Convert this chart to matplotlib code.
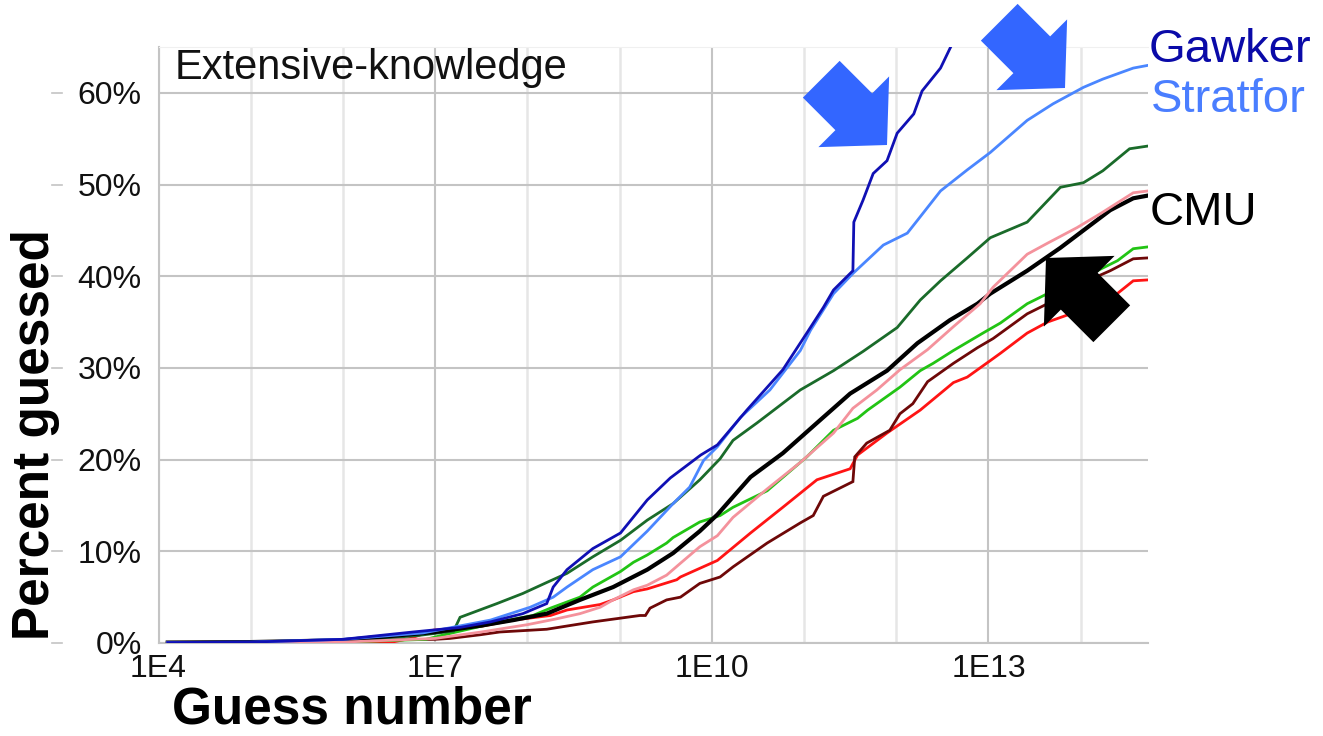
import numpy as np
import matplotlib.pyplot as plt
import matplotlib.transforms as mtransforms
from matplotlib.patches import Polygon
from matplotlib.ticker import FixedLocator, NullFormatter

plt.rcParams['font.family'] = ['Liberation Sans', 'DejaVu Sans']

W, H = 1323, 736

# guess number (as a power of ten) and percent of passwords guessed
gawker_exp = [4.1, 5.0, 6.0, 6.76, 7.27, 7.6, 7.95, 8.21, 8.28, 8.43, 8.71, 9.01, 9.30, 9.55, 9.88,
              10.06, 10.38, 10.77, 11.03, 11.21, 11.32, 11.53, 11.54, 11.64, 11.75, 11.90, 12.01,
              12.19, 12.28, 12.48, 12.59, 12.7]
gawker_pct = [0.05, 0.1, 0.4, 1.2, 1.7, 2.3, 3.2, 4.3, 6.1, 8.0, 10.3, 12.0, 15.6, 18.0, 20.5,
              21.6, 25.4, 29.8, 33.8, 36.6, 38.5, 40.6, 45.9, 48.3, 51.2, 52.6, 55.6,
              57.7, 60.2, 62.7, 65.0, 67.0]

stratfor_exp = [4.1, 5.0, 6.0, 6.87, 7.6, 8.03, 8.28, 8.43, 8.71, 9.01, 9.30, 9.58, 9.76, 9.91,
                10.06, 10.31, 10.63, 10.96, 11.07, 11.32, 11.53, 11.86, 12.12, 12.23, 12.48, 12.77,
                13.02, 13.42, 13.70, 14.03, 14.24, 14.57, 14.73]
stratfor_pct = [0.05, 0.1, 0.4, 1.1, 2.5, 3.9, 5.0, 6.1, 8.0, 9.4, 12.2, 15.2, 17.0, 19.9,
                21.4, 24.6, 27.6, 31.9, 34.1, 38.1, 40.3, 43.4, 44.7, 46.1, 49.3, 51.6,
                53.5, 57.0, 58.8, 60.6, 61.5, 62.7, 63.0]

dkgreen_exp = [4.1, 5.0, 6.0, 6.8, 7.2, 7.27, 7.67, 7.95, 8.21, 8.43, 8.71, 9.01, 9.30, 9.58,
               9.87, 10.09, 10.23, 10.49, 10.96, 11.32, 11.64, 12.01, 12.26, 12.48, 12.77, 13.02,
               13.42, 13.78, 14.03, 14.24, 14.53, 14.73]
dkgreen_pct = [0.05, 0.05, 0.2, 0.8, 1.3, 2.8, 4.3, 5.4, 6.6, 7.6, 9.4, 11.2, 13.4, 15.2,
               17.8, 20.1, 22.1, 24.0, 27.6, 29.7, 31.8, 34.4, 37.4, 39.5, 42.0, 44.2,
               45.9, 49.7, 50.2, 51.5, 53.9, 54.2]

cmu_exp = [4.1, 5.0, 6.0, 7.0, 7.5, 7.85, 8.21, 8.57, 8.93, 9.30, 9.58, 9.87, 10.06, 10.42,
           10.77, 11.14, 11.50, 11.90, 12.23, 12.58, 12.88, 13.02, 13.42, 13.78, 14.03, 14.32,
           14.57, 14.73]
cmu_pct = [0.05, 0.1, 0.3, 1.2, 1.9, 2.5, 3.2, 4.7, 6.1, 8.0, 9.8, 12.2, 14.0, 18.1,
           20.7, 24.0, 27.2, 29.7, 32.7, 35.2, 37.0, 38.1, 40.6, 43.1, 45.0, 47.2,
           48.5, 48.8]

pink_exp = [4.1, 5.0, 6.0, 7.0, 7.5, 8.0, 8.3, 8.57, 8.79, 8.93, 9.15, 9.30, 9.51, 9.66, 9.87,
            10.06, 10.23, 10.60, 10.96, 11.32, 11.53, 11.79, 12.04, 12.34, 12.62, 12.91, 13.05,
            13.42, 13.64, 13.96, 14.21, 14.57, 14.73]
pink_pct = [0.05, 0.05, 0.1, 0.5, 1.2, 2.0, 2.6, 3.2, 3.9, 4.7, 5.8, 6.3, 7.4, 8.7, 10.5,
            11.7, 13.7, 16.8, 19.7, 22.9, 25.6, 27.6, 29.8, 32.0, 34.5, 37.0, 38.8,
            42.4, 43.6, 45.3, 46.8, 49.1, 49.3]

ltgreen_exp = [4.1, 5.0, 6.0, 6.9, 7.1, 7.70, 8.06, 8.25, 8.57, 8.71, 9.01, 9.15, 9.30, 9.51,
               9.58, 9.87, 10.09, 10.23, 10.60, 11.03, 11.32, 11.58, 11.69, 12.04, 12.26, 12.40,
               12.62, 12.94, 13.13, 13.42, 13.78, 14.14, 14.40, 14.57, 14.73]
ltgreen_pct = [0.05, 0.05, 0.1, 0.4, 0.9, 2.3, 3.0, 3.8, 5.0, 6.1, 7.8, 8.8, 9.6, 10.9,
               11.5, 13.2, 13.9, 14.8, 16.6, 20.3, 23.2, 24.5, 25.4, 27.9, 29.7, 30.5,
               31.9, 33.8, 34.9, 37.0, 38.8, 40.4, 41.7, 43.0, 43.2]

maroon_exp = [4.1, 5.0, 6.0, 7.0, 7.16, 7.49, 7.70, 8.21, 8.71, 9.22, 9.28, 9.33, 9.51, 9.66,
              9.87, 10.09, 10.23, 10.60, 10.96, 11.10, 11.21, 11.53, 11.55, 11.68, 11.93, 12.04,
              12.18, 12.34, 12.62, 12.88, 13.05, 13.42, 13.64, 13.89, 14.14, 14.32, 14.57, 14.73]
maroon_pct = [0.05, 0.1, 0.3, 0.4, 0.5, 0.9, 1.2, 1.5, 2.3, 3.0, 3.0, 3.8, 4.7, 5.0,
              6.5, 7.2, 8.3, 10.9, 13.1, 13.9, 16.0, 17.6, 20.3, 21.8, 23.2, 25.0,
              26.1, 28.5, 30.5, 32.2, 33.2, 35.9, 37.0, 38.1, 39.8, 40.6, 41.9, 42.0]

red_exp = [4.1, 5.0, 6.0, 6.51, 6.73, 6.98, 7.49, 7.85, 8.25, 8.43, 8.79, 8.93, 9.15, 9.30,
           9.62, 9.66, 10.06, 10.42, 10.77, 11.14, 11.50, 11.58, 11.90, 12.26, 12.62, 12.77,
           13.02, 13.13, 13.42, 13.64, 13.92, 14.21, 14.57, 14.73]
red_pct = [0.02, 0.02, 0.05, 0.05, 0.5, 1.4, 1.8, 2.5, 3.0, 3.6, 4.2, 4.7, 5.6, 5.9,
           6.9, 7.2, 9.0, 12.0, 14.8, 17.8, 19.0, 20.5, 22.9, 25.4, 28.4, 29.0,
           30.8, 31.6, 33.8, 35.0, 36.0, 36.6, 39.5, 39.6]

# drawing order: last one ends up on top
series = [
    (red_exp, red_pct, '#ff1414', 2.0),
    (maroon_exp, maroon_pct, '#6e0808', 2.0),
    (ltgreen_exp, ltgreen_pct, '#22c414', 2.0),
    (dkgreen_exp, dkgreen_pct, '#1a6b2a', 2.0),
    (cmu_exp, cmu_pct, '#000000', 3.0),
    (pink_exp, pink_pct, '#f4929c', 2.0),
    (stratfor_exp, stratfor_pct, '#4a86ff', 2.0),
    (gawker_exp, gawker_pct, '#1010b4', 2.0),
]

major_exp = [4, 7, 10, 13]
minor_exp = [5, 6, 8, 9, 11, 12, 14]
y_ticks = [0, 10, 20, 30, 40, 50, 60]


def px(x, y):
    # pixel position (y from top) -> figure fraction
    return x / W, 1 - y / H


def block_arrow(tip, direction, color):
    d = np.array(direction, float)
    d /= np.hypot(*d)
    n = np.array([d[1], -d[0]])
    shape = [(0, 0), (-47, 50), (-47, 26), (-93, 26), (-93, -26), (-47, -26), (-47, -50)]
    pts = [px(*(np.array(tip) + u * d + v * n)) for u, v in shape]
    fig.add_artist(Polygon(pts, closed=True, facecolor=color, edgecolor='none',
                           transform=fig.transFigure, zorder=10))


fig = plt.figure(figsize=(W / 100, H / 100), dpi=100)
x0, y0 = px(158.5, 643)
x1, y1 = px(1148, 47)
ax = fig.add_axes([x0, y0, x1 - x0, y1 - y0])

for exp, pct, color, lw in series:
    ax.plot(10.0 ** np.array(exp), pct, color=color, lw=lw, solid_joinstyle='miter', zorder=3)

ax.set_xscale('log')
ax.set_xlim(1e4, 10 ** 14.73)
ax.set_ylim(0, 65)

ax.xaxis.set_major_locator(FixedLocator([10.0 ** e for e in major_exp]))
ax.xaxis.set_minor_locator(FixedLocator([10.0 ** e for e in minor_exp]))
ax.xaxis.set_minor_formatter(NullFormatter())
ax.set_xticklabels(['1E%d' % e for e in major_exp])
ax.set_yticks(y_ticks)
ax.set_yticklabels(['%d%%' % v for v in y_ticks])

ax.tick_params(which='both', length=0, labelsize=23, colors='#111111')
ax.tick_params(axis='x', pad=8)
ax.tick_params(axis='y', pad=12)

ax.grid(True, which='major', axis='both', color='#c4c4c4', lw=1.5, zorder=0)
ax.grid(True, which='minor', axis='x', color='#e6e6e6', lw=1.8, zorder=0)
ax.set_axisbelow(True)

for side in ['left', 'bottom']:
    ax.spines[side].set_color('#c4c4c4')
    ax.spines[side].set_linewidth(1.5)
ax.spines['top'].set_color('#f0f0f0')
ax.spines['right'].set_visible(False)

# small dashes to the left of the percent labels
dash = mtransforms.blended_transform_factory(fig.transFigure, ax.transData)
for v in y_ticks:
    ax.plot([52 / W, 62 / W], [v, v], color='#c4c4c4', lw=1.2, transform=dash, clip_on=False)

fig.text(*px(175, 68), 'Extensive-knowledge', fontsize=30, color='#111111', va='center', ha='left')

fig.text(*px(36, 435), 'Percent guessed', fontsize=37, fontweight='bold', rotation=90,
         ha='center', va='center')
fig.text(*px(352, 734), 'Guess number', fontsize=37, fontweight='bold', ha='center', va='bottom')

fig.text(*px(1149, 50), 'Gawker', fontsize=34, color='#0a0aa8', ha='left', va='center')
fig.text(*px(1151, 100), 'Stratfor', fontsize=34, color='#4a7eff', ha='left', va='center')
fig.text(*px(1150, 213), 'CMU', fontsize=34, color='#000000', ha='left', va='center')

block_arrow((887, 145), (1, 1), '#3366ff')
block_arrow((1065, 88), (1, 1), '#3366ff')
block_arrow((1046, 258), (-1, -1), '#000000')

fig.savefig('out.png', dpi=100)
